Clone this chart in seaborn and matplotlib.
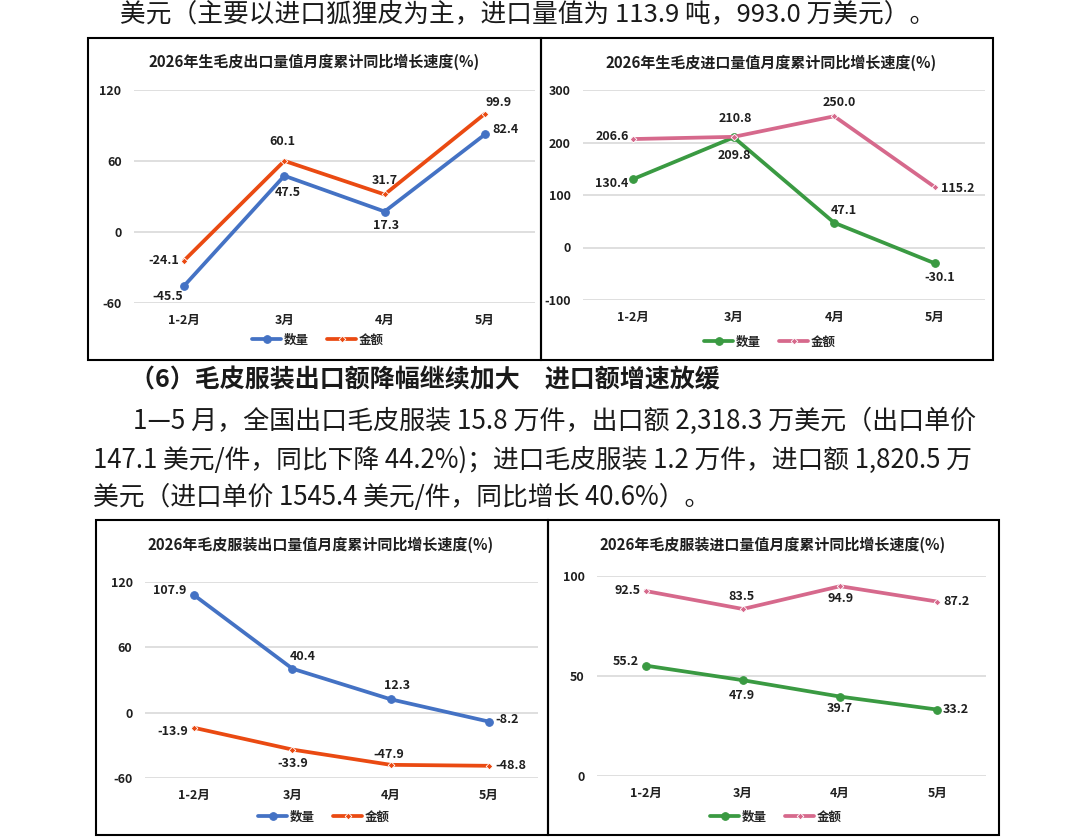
import seaborn as sns
import matplotlib.pyplot as plt
from matplotlib.patches import Rectangle

# ---- data ----
months = ["1-2月", "3月", "4月", "5月"]

raw_exp_qty = [-45.5, 47.5, 17.3, 82.4]     # 生毛皮出口 数量
raw_exp_val = [-24.1, 60.1, 31.7, 99.9]     # 生毛皮出口 金额
raw_imp_qty = [130.4, 209.8, 47.1, -30.1]   # 生毛皮进口 数量
raw_imp_val = [206.6, 210.8, 250.0, 115.2]  # 生毛皮进口 金额
fur_exp_qty = [107.9, 40.4, 12.3, -8.2]     # 毛皮服装出口 数量
fur_exp_val = [-13.9, -33.9, -47.9, -48.8]  # 毛皮服装出口 金额
fur_imp_qty = [55.2, 47.9, 39.7, 33.2]      # 毛皮服装进口 数量
fur_imp_val = [92.5, 83.5, 94.9, 87.2]      # 毛皮服装进口 金额

titles = ["2026年生毛皮出口量值月度累计同比增长速度(%)",
          "2026年生毛皮进口量值月度累计同比增长速度(%)",
          "2026年毛皮服装出口量值月度累计同比增长速度(%)",
          "2026年毛皮服装进口量值月度累计同比增长速度(%)"]
ticks_raw_exp = [-60, 0, 60, 120]
ticks_raw_imp = [-100, 0, 100, 200, 300]
ticks_fur_exp = [-60, 0, 60, 120]
ticks_fur_imp = [0, 50, 100]

text_top = "美元（主要以进口狐狸皮为主，进口量值为 113.9 吨，993.0 万美元）。"
text_head = "（6）毛皮服装出口额降幅继续加大　进口额增速放缓"
text_l1 = "1—5 月，全国出口毛皮服装 15.8 万件，出口额 2,318.3 万美元（出口单价"
text_l2 = "147.1 美元/件，同比下降 44.2%)；进口毛皮服装 1.2 万件，进口额 1,820.5 万"
text_l3 = "美元（进口单价 1545.4 美元/件，同比增长 40.6%）。"

BLUE, ORANGE = "#4472C4", "#EA4A12"
GREEN, PINK = "#3A9A42", "#D6698C"

sns.set_theme(style="white")
plt.rcParams["font.family"] = ["Noto Sans CJK SC", "DejaVu Sans"]
plt.rcParams["axes.unicode_minus"] = False

W, H = 1087, 840
fig = plt.figure(figsize=(W / 100, H / 100), dpi=100)
fig.patch.set_facecolor("white")


def fx(px):
    return px / W


def fy(py):
    return 1 - py / H


def make_ax(x0, x1, ytop, ybot):
    return fig.add_axes([fx(x0), fy(ybot), (x1 - x0) / W, (ybot - ytop) / H])


def draw_chart(ax, qty, val, c_qty, c_val, ticks, off_qty, off_val, title, title_xy, leg_xy):
    sns.lineplot(x=months, y=qty, ax=ax, color=c_qty, lw=2.7, marker="o", ms=5.5,
                 mec=c_qty, label="数量", sort=False)
    sns.lineplot(x=months, y=val, ax=ax, color=c_val, lw=2.7, marker="D", ms=3.4,
                 mec="white", mew=0.6, label="金额", sort=False)
    ax.set_xlim(-0.5, 3.5)
    ax.set_ylim(ticks[0], ticks[-1])
    ax.set_yticks(ticks)
    ax.grid(axis="y", color="#d9d9d9", lw=1.2)
    ax.grid(axis="x", visible=False)
    ax.set_axisbelow(True)
    ax.set_xlabel("")
    ax.set_ylabel("")
    sns.despine(ax=ax, left=True, bottom=True)
    ax.tick_params(axis="y", length=0, pad=9, labelsize=9, labelcolor="#1f1f1f")
    ax.tick_params(axis="x", length=0, pad=8, labelsize=9, labelcolor="#1f1f1f")
    for lbl in ax.get_xticklabels() + ax.get_yticklabels():
        lbl.set_fontweight("bold")
    for series, offs in ((qty, off_qty), (val, off_val)):
        for i, v in enumerate(series):
            ax.annotate(f"{v:.1f}", xy=(months[i], v), xytext=offs[i],
                        textcoords="offset pixels", ha="center", va="center",
                        fontsize=9, fontweight="bold", color="#1f1f1f")
    fig.text(fx(title_xy[0]), fy(title_xy[1]), title, ha="center", va="center",
             fontsize=10.8, fontweight="bold", color="#1f1f1f")
    ax.legend(loc="center", bbox_to_anchor=(fx(leg_xy[0]), fy(leg_xy[1])),
              bbox_transform=fig.transFigure, ncol=2, frameon=False,
              prop={"size": 9, "weight": "bold"}, handlelength=2.3,
              handletextpad=0.2, columnspacing=1.5)


ax1 = make_ax(134, 535, 90, 303)
draw_chart(ax1, raw_exp_qty, raw_exp_val, BLUE, ORANGE, ticks_raw_exp,
           [(-16, -11), (3, -17), (1, -14), (21, 5)],
           [(-20, 0), (-2, 19), (0, 14), (14, 11)],
           titles[0], (314, 62), (318, 340))

ax2 = make_ax(583, 985, 90, 300)
draw_chart(ax2, raw_imp_qty, raw_imp_val, GREEN, PINK, ticks_raw_imp,
           [(-22, -4), (1, -18), (10, 12), (5, -14)],
           [(-21, 3), (2, 18), (5, 14), (23, -1)],
           titles[1], (771, 63), (770, 342))

ax3 = make_ax(145, 538, 582, 778)
draw_chart(ax3, fur_exp_qty, fur_exp_val, BLUE, ORANGE, ticks_fur_exp,
           [(-24, 5), (10, 12), (6, 14), (18, 2)],
           [(-21, -4), (0, -14), (-2, 10), (22, 0)],
           titles[2], (321, 545), (324, 817))

ax4 = make_ax(597, 986, 576, 776)
draw_chart(ax4, fur_imp_qty, fur_imp_val, GREEN, PINK, ticks_fur_imp,
           [(-20, 4), (-1, -15), (0, -12), (18, 0)],
           [(-18, 0), (-1, 12), (0, -12), (19, 0)],
           titles[3], (773, 545), (776, 817))

# chart frames
for x0, y0, x1, y1 in [(88, 38, 541, 360), (541, 38, 993, 360),
                       (96, 520, 548, 835), (548, 520, 999, 835)]:
    fig.add_artist(Rectangle((fx(x0), fy(y1)), (x1 - x0) / W, (y1 - y0) / H,
                             transform=fig.transFigure, fill=False,
                             ec="black", lw=1.5))

# document text around the charts
renderer = fig.canvas.get_renderer()


def body(x, y, s, width=None, size=17, weight="normal"):
    t = fig.text(fx(x), fy(y), s, ha="left", va="center", fontsize=size,
                 fontweight=weight, color="#1a1a1a")
    if width:
        w = t.get_window_extent(renderer).width
        t.set_fontsize(size * width / w)
    return t


body(120, 14, text_top, width=815)
body(130, 380, text_head, width=590, weight="bold")
body(133, 421, text_l1, width=845)
t2 = body(93, 460, text_l2, width=882)
body(93, 497, text_l3, size=t2.get_fontsize())

fig.savefig("out.png", dpi=100, facecolor="white")
